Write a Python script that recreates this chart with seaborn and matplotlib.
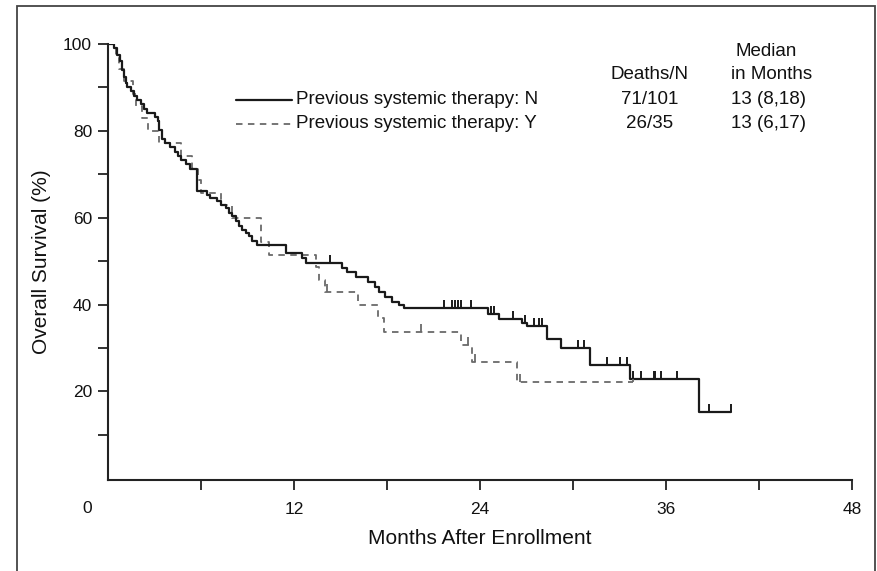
import numpy as np
import pandas as pd
import matplotlib
matplotlib.use("Agg")
import matplotlib.pyplot as plt
from matplotlib.path import Path
from matplotlib.patches import Rectangle
from matplotlib.lines import Line2D
import seaborn as sns

# Kaplan-Meier step points: (months, survival %) for each group
n_months = [0, 0.4, 0.6, 0.8, 0.9, 1.0, 1.14, 1.25, 1.46, 1.68, 1.89, 2.1, 2.3, 2.5,
            3.0, 3.2, 3.3, 3.5, 3.7, 4.0, 4.3, 4.5, 4.7, 5.0, 5.3, 5.75, 6.4, 6.6,
            7.0, 7.3, 7.6, 7.8, 8.0, 8.25, 8.45, 8.65, 8.9, 9.1, 9.3, 9.6, 11.5,
            12.5, 12.8, 15.1, 15.4, 16.0, 16.8, 17.2, 17.5, 17.9, 18.3, 18.8, 19.1,
            24.5, 25.2, 26.7, 27.0, 28.3, 29.2, 31.1, 33.7, 38.1, 40.2]
n_surv = [100, 99.0, 97.5, 96.0, 94.0, 92.5, 91.1, 90.1, 89.1, 88.1, 87.1, 86.1, 85.1, 84.2,
          83.2, 82.2, 80.2, 78.2, 77.2, 76.2, 75.2, 74.3, 73.3, 72.3, 71.3, 66.1, 65.3, 64.5,
          63.8, 63.0, 62.2, 61.1, 60.3, 59.2, 58.0, 57.2, 56.5, 55.7, 54.6, 53.6, 51.9,
          50.8, 49.6, 48.5, 47.4, 46.4, 45.3, 44.1, 43.0, 41.8, 40.7, 40.0, 39.1,
          37.9, 36.6, 35.8, 35.0, 32.0, 30.1, 26.0, 22.8, 15.2, 15.2]
n_censor = [14.3, 21.7, 22.2, 22.4, 22.6, 22.8, 23.4, 24.7, 24.9, 26.1, 26.9, 27.5,
            27.8, 28.0, 30.3, 30.7, 32.2, 33.0, 33.5, 33.9, 34.4, 35.2, 35.3, 35.7,
            36.7, 38.8, 40.2]

y_months = [0, 0.5, 0.7, 1.0, 1.6, 1.8, 2.2, 2.6, 3.3, 4.7, 5.4, 5.8, 6.0, 7.3, 8.0,
            9.9, 10.4, 13.4, 13.6, 14.0, 16.1, 17.4, 17.8, 22.8, 23.5, 26.4, 33.9]
y_surv = [100, 97.1, 94.3, 91.4, 88.6, 85.7, 82.9, 80.0, 77.1, 74.3, 71.4, 68.6, 65.7,
          62.9, 60.0, 54.3, 51.4, 48.6, 45.7, 42.9, 39.8, 36.8, 33.7, 30.6, 26.7, 22.2, 22.2]
y_censor = [14.1, 20.2, 23.2, 23.7, 26.6, 33.9]

group_labels = ["Previous systemic therapy: N", "Previous systemic therapy: Y"]
deaths_n = ["71/101", "26/35"]
medians = ["13 (8,18)", "13 (6,17)"]

x_ticks = [6, 12, 18, 24, 30, 36, 42, 48]
x_tick_labels = ["", "12", "", "24", "", "36", "", "48"]
y_major = [20, 40, 60, 80, 100]
y_minor = [10, 30, 50, 70, 90]


def step_value(times, surv, t):
    idx = np.searchsorted(times, t, side="right") - 1
    return [surv[i] for i in idx]


sns.set_theme(style="white")
plt.rcParams["font.family"] = ["Liberation Sans", "DejaVu Sans"]

fig = plt.figure(figsize=(8.77, 5.71), dpi=100)
ax = fig.add_axes([108 / 877, 1 - 480 / 571, 744 / 877, 436 / 571])

solid_c = "#1a1a1a"
dash_c = "#6a6a6a"
text_c = "#111111"

df_n = pd.DataFrame({"month": n_months, "surv": n_surv})
df_y = pd.DataFrame({"month": y_months, "surv": y_surv})

sns.lineplot(data=df_y, x="month", y="surv", drawstyle="steps-post", estimator=None,
             sort=False, color=dash_c, linewidth=1.3, ax=ax)
ax.lines[-1].set_dashes([3.6, 3.0])
sns.lineplot(data=df_n, x="month", y="surv", drawstyle="steps-post", estimator=None,
             sort=False, color=solid_c, linewidth=1.6, ax=ax)

tick_mark = Path([(0, 0), (0, 1)])
cy = pd.DataFrame({"month": y_censor, "surv": step_value(y_months, y_surv, y_censor)})
cn = pd.DataFrame({"month": n_censor, "surv": step_value(n_months, n_surv, n_censor)})
sns.scatterplot(data=cy, x="month", y="surv", marker=tick_mark, s=130, color=dash_c,
                edgecolor=dash_c, linewidth=1.3, ax=ax, zorder=3)
sns.scatterplot(data=cn, x="month", y="surv", marker=tick_mark, s=130, color=solid_c,
                edgecolor=solid_c, linewidth=1.4, ax=ax, zorder=4)

ax.set_xlim(0, 48)
ax.set_ylim(-0.4, 100)
for s in ["top", "right"]:
    ax.spines[s].set_visible(False)
for s in ["left", "bottom"]:
    ax.spines[s].set_color("#222222")
    ax.spines[s].set_linewidth(1.5)

ax.set_xticks(x_ticks)
ax.set_xticklabels(x_tick_labels)
ax.set_yticks(y_major)
ax.set_yticks(y_minor, minor=True)
ax.tick_params(axis="both", which="both", direction="out", length=7.5, width=1.3,
               color="#222222", labelsize=12.5, labelcolor=text_c,
               bottom=True, left=True)
ax.tick_params(axis="x", pad=8)
ax.tick_params(axis="y", pad=4)
ax.annotate("0", xy=(0, 0), xycoords="data", xytext=(-15, -22), textcoords="offset points",
            ha="center", va="center", fontsize=12.5, color=text_c)

ax.set_xlabel("Months After Enrollment", fontsize=15, color=text_c, labelpad=9)
ax.set_ylabel("Overall Survival (%)", fontsize=15, color=text_c, labelpad=9)

# legend block with summary columns
fs = 13.5
row_y = [0.872, 0.817]
styles = [dict(color=solid_c, lw=1.6, ls="-"), dict(color=dash_c, lw=1.3, ls=(0, (3.6, 3.0)))]
for i in range(2):
    ax.add_line(Line2D([0.172, 0.247], [row_y[i], row_y[i]], transform=ax.transAxes,
                       **styles[i]))
    ax.text(0.253, row_y[i], group_labels[i], transform=ax.transAxes, ha="left",
            va="center", fontsize=fs, color=text_c)
    ax.text(0.728, row_y[i], deaths_n[i], transform=ax.transAxes, ha="center",
            va="center", fontsize=fs, color=text_c)
    ax.text(0.837, row_y[i], medians[i], transform=ax.transAxes, ha="left",
            va="center", fontsize=fs, color=text_c)
ax.text(0.728, 0.929, "Deaths/N", transform=ax.transAxes, ha="center", va="center",
        fontsize=fs, color=text_c)
ax.text(0.837, 0.929, "in Months", transform=ax.transAxes, ha="left", va="center",
        fontsize=fs, color=text_c)
ax.text(0.885, 0.982, "Median", transform=ax.transAxes, ha="center", va="center",
        fontsize=fs, color=text_c)

# outer frame
fig.add_artist(Rectangle((17 / 877, -0.05), (875 - 17) / 877, 1 - 6 / 571 + 0.05,
                         transform=fig.transFigure, fill=False, edgecolor="#444444",
                         linewidth=1.3))

fig.savefig("out.png", dpi=100)
